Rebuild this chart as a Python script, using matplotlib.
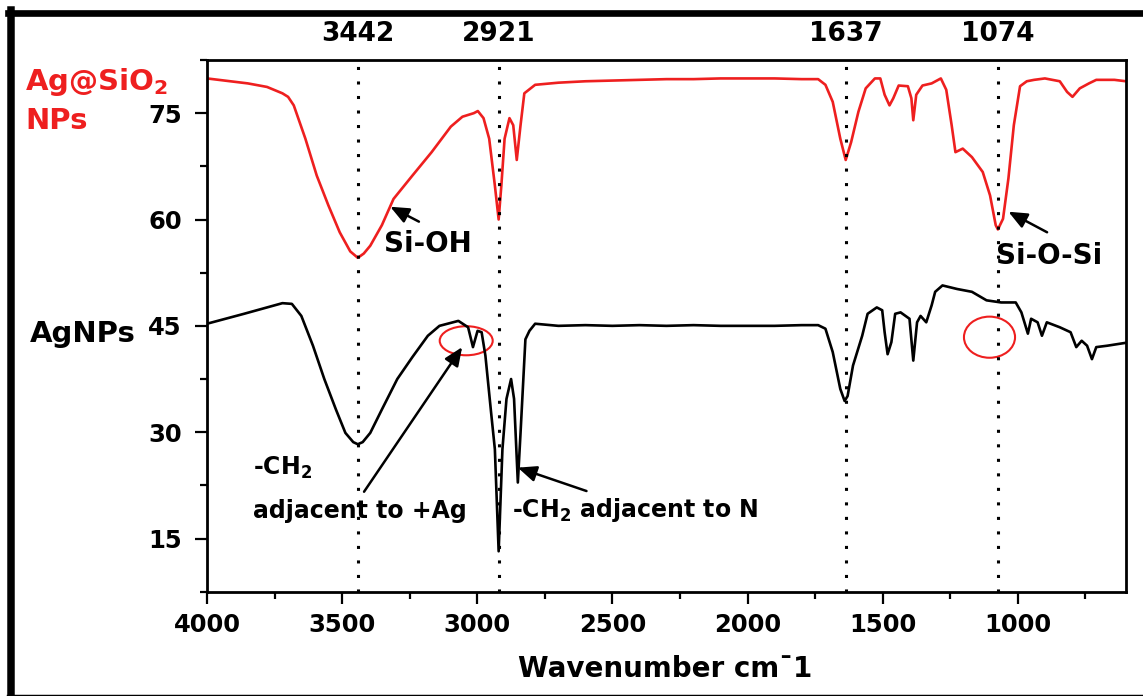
import matplotlib.pyplot as plt
from matplotlib.patches import Ellipse
from matplotlib.lines import Line2D
from matplotlib.ticker import MultipleLocator
import matplotlib.transforms as mtransforms

plt.rcParams["font.family"] = ["DejaVu Sans"]
plt.rcParams["font.weight"] = "bold"
plt.rcParams["mathtext.default"] = "regular"

RED = "#ee1f1f"

# Ag@SiO2 NPs spectrum (wavenumber, %T)
sio2_wn = [4000, 3849, 3778, 3721, 3700, 3679, 3636, 3594, 3551, 3509, 3470, 3442,
           3420, 3396, 3353, 3310, 3240, 3169, 3098, 3055, 3013, 2998,
           2977, 2956, 2935, 2921, 2911, 2899, 2881, 2867, 2854, 2840,
           2826, 2786, 2700, 2600, 2500, 2400, 2300, 2200, 2100, 2000,
           1900, 1800, 1739, 1712, 1685, 1657, 1637, 1617, 1590, 1563,
           1529, 1509, 1493, 1475, 1461, 1441, 1407, 1394, 1387, 1376,
           1353, 1319, 1285, 1265, 1245, 1231, 1204, 1170, 1130, 1103,
           1082, 1074, 1055, 1035, 1015, 992, 967, 940, 900, 845,
           818, 798, 771, 737, 710, 643, 600]
sio2_t = [79.9, 79.2, 78.7, 77.8, 77.3, 76.1, 71.4, 66.2, 62.0, 58.2, 55.5, 54.6,
          55.2, 56.3, 59.2, 62.9, 66.2, 69.5, 73.1, 74.5, 75.0, 75.3,
          74.3, 71.4, 64.8, 60.0, 64.8, 71.4, 74.3, 73.3, 68.4, 73.3,
          77.8, 79.0, 79.3, 79.5, 79.6, 79.7, 79.8, 79.8, 79.9, 79.9,
          79.9, 79.8, 79.8, 79.0, 76.6, 71.4, 68.4, 70.9, 75.2, 78.5,
          79.9, 79.9, 77.6, 76.1, 77.1, 78.9, 78.8, 77.1, 74.0, 77.6,
          78.9, 79.2, 79.9, 78.3, 73.3, 69.5, 70.0, 68.8, 66.7, 63.4,
          59.2, 58.6, 60.1, 65.8, 73.3, 78.8, 79.5, 79.7, 79.9, 79.5,
          78.0, 77.3, 78.5, 79.2, 79.7, 79.7, 79.5]

# AgNPs spectrum
ag_wn = [4000, 3863, 3721, 3686, 3651, 3608, 3566, 3523, 3488, 3459,
         3442, 3424, 3396, 3353, 3296, 3240, 3183, 3140, 3070, 3034,
         3016, 2999, 2984, 2970, 2949, 2935, 2921, 2907, 2892, 2875,
         2864, 2850, 2840, 2822, 2807, 2786, 2700, 2600, 2500, 2400,
         2300, 2200, 2100, 2000, 1900, 1800, 1739, 1712, 1685, 1657,
         1641, 1630, 1610, 1576, 1556, 1522, 1502, 1493, 1482, 1468,
         1454, 1434, 1401, 1387, 1373, 1360, 1339, 1319, 1306, 1279,
         1225, 1170, 1116, 1062, 1008, 987, 963, 951, 927, 911,
         893, 845, 805, 784, 764, 744, 726, 710, 669, 602]
ag_t = [45.3, 46.7, 48.2, 48.1, 46.4, 42.2, 37.5, 33.2, 29.9, 28.6,
        28.3, 28.6, 29.9, 33.2, 37.5, 40.6, 43.6, 45.0, 45.7, 44.8,
        42.0, 44.3, 44.1, 40.8, 32.8, 27.6, 13.2, 27.6, 34.7, 37.5,
        34.7, 22.9, 29.9, 43.1, 44.3, 45.3, 45.0, 45.1, 45.0, 45.1,
        45.0, 45.1, 45.0, 45.0, 45.0, 45.1, 45.1, 44.6, 41.3, 36.1,
        34.4, 35.1, 39.4, 43.6, 46.7, 47.6, 47.2, 44.1, 41.0, 42.7,
        46.7, 46.9, 46.0, 40.1, 45.5, 46.4, 45.5, 47.9, 49.8, 50.7,
        50.2, 49.8, 48.6, 48.3, 48.3, 46.9, 43.9, 46.0, 45.5, 43.6,
        45.5, 44.8, 44.1, 42.0, 42.9, 42.2, 40.3, 42.0, 42.2, 42.6]

peaks = [3442, 2921, 1637, 1074]

W, H = 1143, 696
fig = plt.figure(figsize=(W / 100, H / 100), dpi=100)
ax = fig.add_axes([207 / W, 1 - 591.7 / H, (1126 - 207) / W, (591.7 - 60) / H])

ax.plot(sio2_wn, sio2_t, color=RED, lw=1.9)
ax.plot(ag_wn, ag_t, color="black", lw=1.9)

for p in peaks:
    ax.axvline(p, color="black", lw=2.2, ls=(0, (1, 3.75)))

ax.set_xlim(4000, 600)
ax.set_ylim(7.5, 82.5)
ax.xaxis.set_major_locator(MultipleLocator(500))
ax.xaxis.set_minor_locator(MultipleLocator(250))
ax.yaxis.set_major_locator(MultipleLocator(15))
ax.yaxis.set_minor_locator(MultipleLocator(7.5))
ax.tick_params(which="both", direction="out", width=1.6, top=False, right=False)
ax.tick_params(which="major", length=8.5, labelsize=17.5)
ax.tick_params(which="minor", length=5)
ax.tick_params(axis="x", pad=6.5)
ax.tick_params(axis="y", pad=9.5)
for s in ax.spines.values():
    s.set_linewidth(2)

# peak labels above the frame
trans = mtransforms.blended_transform_factory(ax.transData, ax.transAxes)
for p in peaks:
    ax.text(p, 1.049, str(p), transform=trans, ha="center", va="center",
            fontsize=19)

# red circles
ax.add_patch(Ellipse((3041, 42.9), 196, 4.1, fill=False, ec=RED, lw=1.5))
ax.add_patch(Ellipse((1105, 43.4), 189, 5.8, fill=False, ec=RED, lw=1.5))

arrow = dict(arrowstyle="-|>,head_length=0.7,head_width=0.3", color="black",
             lw=1.8, mutation_scale=16, shrinkA=0, shrinkB=0)
ax.annotate("", xy=(3322, 61.8), xytext=(3216, 59.7), arrowprops=arrow)
ax.annotate("", xy=(1035, 61.1), xytext=(892, 58.2), arrowprops=arrow)
ax.annotate("", xy=(3056, 42.0), xytext=(3419, 21.6), arrowprops=arrow)
ax.annotate("", xy=(2850, 25.0), xytext=(2596, 21.7), arrowprops=arrow)

ax.text(3346, 55.4, "Si-OH", fontsize=20, ha="left", va="baseline")
ax.text(1082, 53.75, "Si-O-Si", fontsize=20, ha="left", va="baseline")
ax.text(3828, 24.05, "-CH$_\\mathregular{2}$", fontsize=17, ha="left", va="baseline")
ax.text(3828, 17.9, "adjacent to +Ag", fontsize=17, ha="left", va="baseline")
ax.text(2871, 18.0, "-CH$_\\mathregular{2}$ adjacent to N", fontsize=17,
        ha="left", va="baseline")

# series names at the left
fig.text(25 / W, 1 - 90 / H, "Ag@SiO$_\\mathregular{2}$", color=RED,
         fontsize=21, ha="left", va="baseline")
fig.text(25 / W, 1 - 129 / H, "NPs", color=RED, fontsize=21, ha="left",
         va="baseline")
fig.text(30 / W, 1 - 342 / H, "AgNPs", color="black", fontsize=21, ha="left",
         va="baseline")

fig.text(665 / W, 1 - 677 / H, "Wavenumber cm\u00af1",
         fontsize=20, ha="center", va="baseline")

# outer frame (left, top, bottom)
fig.add_artist(Line2D([11.2 / W, 11.2 / W], [0, 1 - 9.5 / H], color="black",
                      lw=5.4, transform=fig.transFigure))
fig.add_artist(Line2D([7.5 / W, 1], [1 - 12.7 / H, 1 - 12.7 / H], color="black",
                      lw=4.8, transform=fig.transFigure))
fig.add_artist(Line2D([7.5 / W, 1], [1 - 695.5 / H, 1 - 695.5 / H], color="black",
                      lw=2.5, transform=fig.transFigure))

fig.savefig("out.png", dpi=100)
